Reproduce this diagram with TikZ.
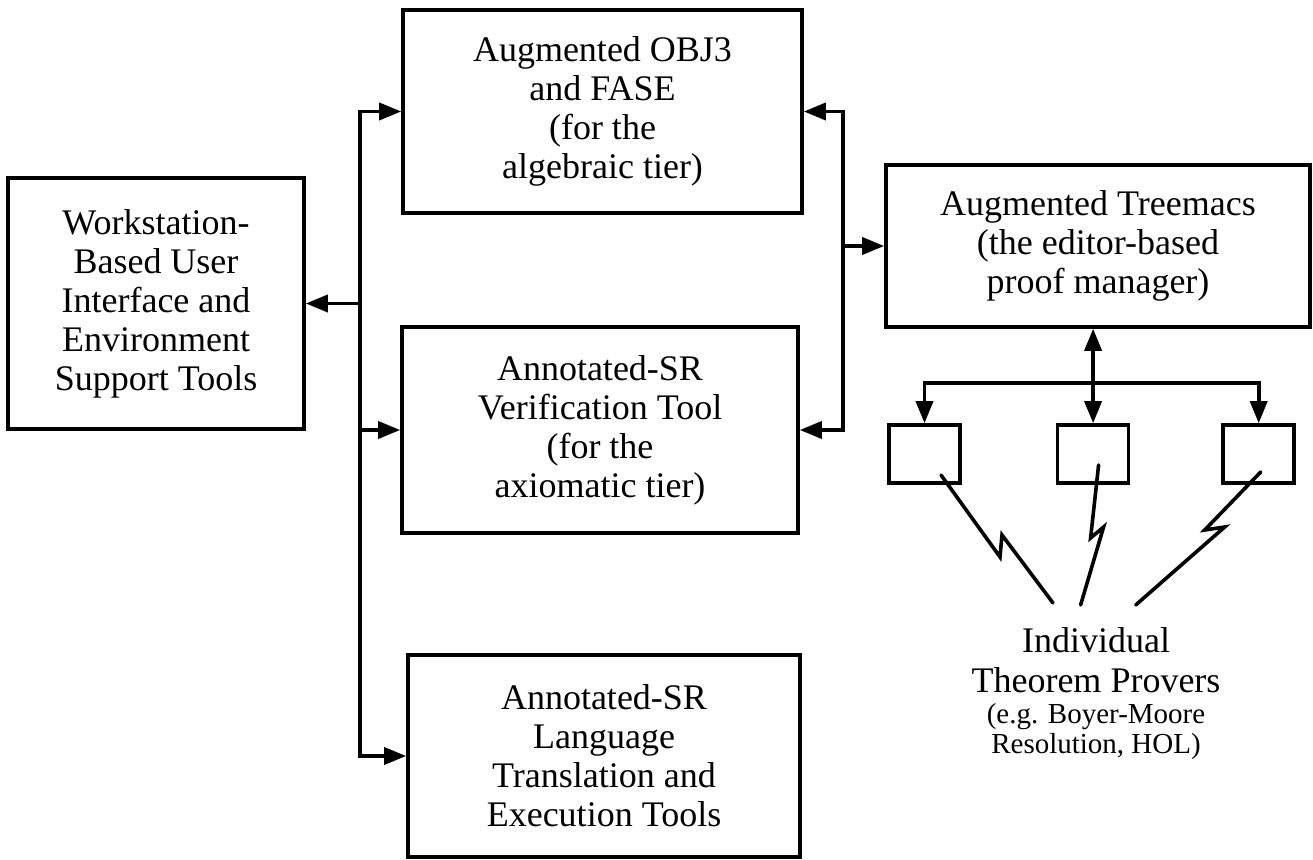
\documentclass[tikz,border=0pt]{standalone}
\usepackage{fontspec}
\setmainfont{Liberation Serif}
\usetikzlibrary{positioning,arrows.meta,calc}

\begin{document}
\begin{tikzpicture}[
  x=0.5pt,y=-0.5pt,
  node distance=46pt,
  blk/.style={draw,line width=1.8pt,inner sep=0pt,align=center,font=\fontsize{18}{19.5}\selectfont},
  prv/.style={draw,line width=1.8pt,minimum width=35.5pt,minimum height=29pt,inner sep=0pt},
  ln/.style={line width=1.8pt,line cap=rect},
  arr/.style={line width=1.8pt,-{Triangle[length=11pt,width=8.5pt]}},
  darr/.style={line width=1.8pt,{Triangle[length=11pt,width=8.5pt]}-{Triangle[length=11pt,width=8.5pt]}},
  bolt/.style={line width=1.8pt,line cap=round,line join=miter}
]
\useasboundingbox (0,0) rectangle (1313,860);
% main blocks
\node[blk,minimum width=148pt,minimum height=125.5pt] (ws) at (156,303.5) {Workstation-\\Based User\\Interface and\\Environment\\Support Tools};
\node[blk,minimum width=199.5pt,minimum height=101.5pt] (obj) at (602.5,111.5) {Augmented OBJ3\\and FASE\\(for the\\algebraic tier)};
\node[blk,minimum width=198pt,minimum height=103pt] (ver) at (600,430) {Annotated-SR\\Verification Tool\\(for the\\axiomatic tier)};
\node[blk,minimum width=196pt,minimum height=101pt] (lang) at (604,756) {Annotated-SR\\Language\\Translation and\\Execution Tools};
\node[blk,minimum width=212pt,minimum height=81pt] (tm) at (1098,246) {Augmented Treemacs\\(the editor-based\\proof manager)};
% provers
\node[prv] (p1) at (924.5,454) {};
\node[prv,right=47pt of p1] (p2) {};
\node[prv,right=45.5pt of p2] (p3) {};
\node[font=\fontsize{18}{20}\selectfont,align=center,inner sep=0pt] (tp) at (1096,660) {Individual\\Theorem Provers};
\node[font=\fontsize{14.5}{15}\selectfont,align=center,inner sep=0pt,below=5pt of tp] (tpx) {(e.g. Boyer-Moore\\Resolution, HOL)};

% left bus
\coordinate (lb) at (360,0);
\draw[ln] (lb |- obj.west) -- (lb |- lang.west);
\foreach \n in {obj,ver,lang} \draw[arr] (lb |- \n.west) -- (\n.west);
\draw[arr] (lb |- ws.east) -- (ws.east);
% right bus
\coordinate (rb) at (843,0);
\draw[ln] (rb |- obj.east) -- (rb |- ver.east);
\foreach \n in {obj,ver} \draw[arr] (rb |- \n.east) -- (\n.east);
\draw[arr] (rb |- tm.west) -- (tm.west);
% treemacs to provers
\coordinate (br) at (0,383);
\draw[darr] (tm.south -| p2.north) -- (p2.north);
\draw[arr] (br -| p2.north) -| (p1.north);
\draw[arr] (br -| p2.north) -| (p3.north);
% lightning links
\draw[bolt] ([shift={(16.5,21)}]p1.center) -- ++(59,82) -- ++(2,-22) -- ++(51,68);
\draw[bolt] ([shift={(5.5,11)}]p2.center) -- ++(-8,73) -- ++(13,-11) -- ++(-23,78);
\draw[bolt] ([shift={(2,18)}]p3.center) -- ++(-56,58) -- ++(20,-3) -- ++(-89,78);
\end{tikzpicture}
\end{document}
